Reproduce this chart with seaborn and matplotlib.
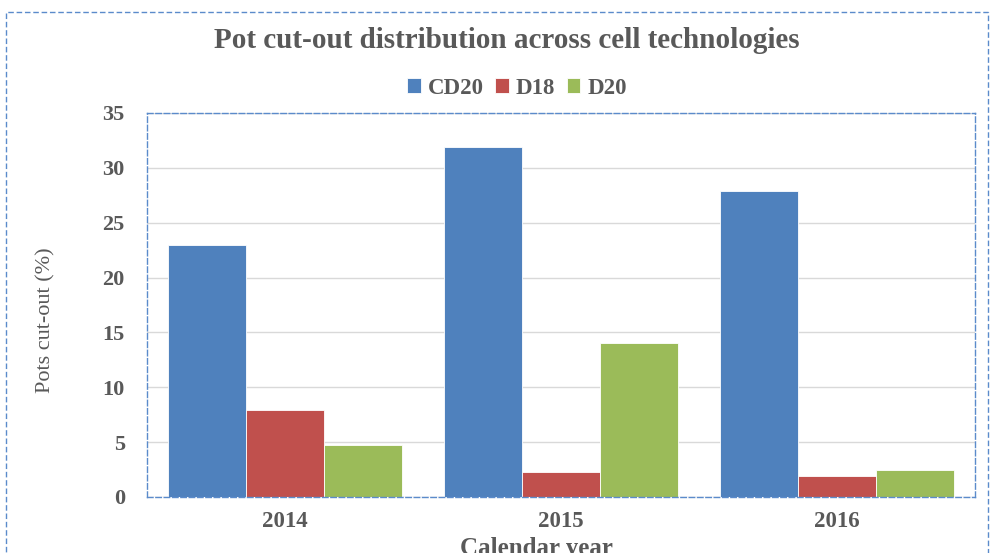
import matplotlib
matplotlib.use("Agg")
import matplotlib.pyplot as plt
import pandas as pd
import seaborn as sns
from matplotlib.patches import Rectangle

years = ["2014", "2015", "2016"]
techs = ["CD20", "D18", "D20"]
cd20 = [23.0, 31.9, 27.9]
d18 = [7.9, 2.3, 1.9]
d20 = [4.7, 14.0, 2.5]
colors = ["#4F81BD", "#C0504D", "#9BBB59"]

df = pd.DataFrame({
    "year": years * 3,
    "tech": [t for t in techs for _ in years],
    "value": cd20 + d18 + d20,
})

sns.set_style("white")
plt.rcParams["font.family"] = ["Liberation Serif", "DejaVu Serif"]
txt = "#595959"
border = "#5B8BCB"

fig = plt.figure(figsize=(9.92, 5.53), dpi=100)
W, H = 992, 553
ax = fig.add_axes([147 / W, 1 - 497 / H, (975 - 147) / W, (497 - 113) / H])

sns.barplot(data=df, x="year", y="value", hue="tech", palette=colors,
            width=0.85, saturation=1, edgecolor="white", linewidth=0.6,
            ax=ax, zorder=2)

ax.set_ylim(0, 35)
ax.set_yticks(range(0, 36, 5))
ax.yaxis.grid(True, color="#D9D9D9", linewidth=1, zorder=0)
ax.set_axisbelow(True)
ax.set_xlabel("")
ax.set_ylabel("")
ax.tick_params(axis="y", length=0, pad=16, labelsize=16, labelcolor=txt)
ax.tick_params(axis="x", length=0, pad=10, labelsize=16.5, labelcolor=txt)
for lab in ax.get_xticklabels() + ax.get_yticklabels():
    lab.set_fontweight("bold")

for sp in ax.spines.values():
    sp.set_visible(True)
    sp.set_color(border)
    sp.set_linewidth(1)
    sp.set_linestyle((0, (4, 2)))

# legend across the top
ax.legend(loc="center", bbox_to_anchor=(517 / W, 1 - 88 / H),
          bbox_transform=fig.transFigure, ncol=3, frameon=False,
          handlelength=0.6, handleheight=0.6, handletextpad=0.3,
          columnspacing=0.5, prop={"weight": "bold", "size": 16.5},
          labelcolor=txt)

fig.text(507 / W, 1 - 40 / H, "Pot cut-out distribution across cell technologies",
         ha="center", va="center", fontsize=21, fontweight="bold", color=txt)
fig.text(46 / W, 1 - 320 / H, "Pots cut-out (%)", rotation=90,
         ha="center", va="center", fontsize=16, color=txt)
fig.text(536 / W, 1 - 537 / H, "Calendar year", ha="center", va="top",
         fontsize=18, fontweight="bold", color=txt)

# outer dashed frame, runs off the bottom edge
fig.add_artist(Rectangle((6 / W, -0.1), (988 - 6) / W, 1 - 12 / H + 0.1,
                         transform=fig.transFigure, fill=False,
                         edgecolor=border, linewidth=1, linestyle=(0, (4, 2))))

fig.savefig("out.png", dpi=100)
